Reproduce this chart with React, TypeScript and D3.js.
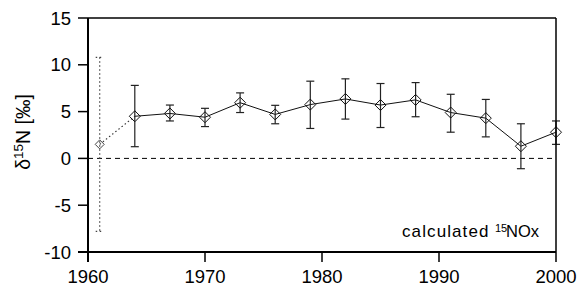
import React from "react";
import * as d3 from "d3";

const years = [1961, 1964, 1967, 1970, 1973, 1976, 1979, 1982, 1985, 1988, 1991, 1994, 1997, 2000];
const values = [1.5, 4.5, 4.8, 4.4, 5.95, 4.7, 5.75, 6.35, 5.7, 6.25, 4.9, 4.3, 1.3, 2.8];
const upper = [10.8, 7.8, 5.7, 5.35, 7.0, 5.67, 8.25, 8.5, 8.0, 8.1, 6.85, 6.3, 3.7, 4.0];
const lower = [-7.8, 1.25, 4.0, 3.4, 4.9, 3.7, 3.2, 4.2, 3.3, 4.45, 2.8, 2.3, -1.1, 1.5];
const xTicks = [1960, 1970, 1980, 1990, 2000];
const yTicks = [-10, -5, 0, 5, 10, 15];

export default function App() {
  const W = 580, H = 288;
  const x = d3.scaleLinear().domain([1960, 2000]).range([88, 556]);
  const y = d3.scaleLinear().domain([-10, 15]).range([252, 18]);
  const font = "Liberation Sans, Arial, sans-serif";
  const line = d3.line<number>().x((_, i) => x(years[i])).y((v) => y(v));
  const solidVals = values.slice(1);
  const solidLine = d3.line<number>().x((_, i) => x(years[i + 1])).y((v) => y(v));
  const diamond = (cx: number, cy: number, r: number) =>
    `M${cx},${cy - r}L${cx + r},${cy}L${cx},${cy + r}L${cx - r},${cy}Z`;
  return (
    <svg width={W} height={H} style={{ position: "absolute", left: 0, top: 0 }}>
      <rect width={W} height={H} fill="white" />
      {/* zero line */}
      <line x1={x(1960)} x2={x(2000)} y1={y(0)} y2={y(0)} stroke="#000" strokeWidth={1} strokeDasharray="5,4" />
      {/* dotted segment */}
      <path d={line(values.slice(0, 2)) || ""} fill="none" stroke="#333" strokeWidth={1.2} strokeDasharray="1.5,2.5" />
      <path d={solidLine(solidVals) || ""} fill="none" stroke="#111" strokeWidth={1} />
      {years.map((yr, i) => {
        const cx = x(yr);
        const dotted = i === 0;
        const col = dotted ? "#444" : "#222";
        const da = dotted ? "1.5,2.5" : undefined;
        return (
          <g key={yr}>
            <line x1={cx} x2={cx} y1={y(upper[i])} y2={y(lower[i])} stroke={col} strokeWidth={1.2} strokeDasharray={da} />
            <line x1={cx - 4} x2={cx + 4} y1={y(upper[i])} y2={y(upper[i])} stroke={col} strokeWidth={1.2} strokeDasharray={da} />
            <line x1={cx - 4} x2={cx + 4} y1={y(lower[i])} y2={y(lower[i])} stroke={col} strokeWidth={1.2} strokeDasharray={da} />
            <path d={diamond(cx, y(values[i]), dotted ? 4.5 : 5.5)} fill="none" stroke={dotted ? "#444" : "#111"} strokeWidth={1} />
          </g>
        );
      })}
      {/* frame */}
      <line x1={x(1960)} x2={x(2000)} y1={18} y2={18} stroke="#000" strokeWidth={1.5} />
      <line x1={x(2000)} x2={x(2000)} y1={18} y2={252} stroke="#000" strokeWidth={1.5} />
      <line x1={x(1960)} x2={x(1960)} y1={18} y2={262} stroke="#000" strokeWidth={2} />
      <line x1={78} x2={x(2000)} y1={252} y2={252} stroke="#000" strokeWidth={2} />
      {yTicks.map((t) => (
        <g key={t}>
          <line x1={78} x2={88} y1={y(t)} y2={y(t)} stroke="#000" strokeWidth={1.5} />
          <text x={71} y={y(t) + 6.5} textAnchor="end" fontFamily={font} fontSize={18.5} fill="#000">{t}</text>
        </g>
      ))}
      {xTicks.map((t) => (
        <g key={t}>
          <line x1={x(t)} x2={x(t)} y1={252} y2={262} stroke="#000" strokeWidth={1.5} />
          <text x={x(t)} y={283} textAnchor="middle" fontFamily={font} fontSize={18.5} fill="#000">{t}</text>
        </g>
      ))}
      <text transform="translate(30,132) rotate(-90)" textAnchor="middle" fontFamily={font} fontSize={19.5} fill="#000">
        δ<tspan fontSize={13.5} dy={-7}>15</tspan><tspan dy={7}>N [‰]</tspan>
      </text>
      <text x={402} y={237} fontFamily={font} fontSize={17} fill="#000">
        <tspan letterSpacing={1.1}>calculated</tspan>
        <tspan x={495} dy={-5} fontSize={11}>15</tspan>
        <tspan x={506} dy={5} fontSize={16.5}>NOx</tspan>
      </text>
    </svg>
  );
}
